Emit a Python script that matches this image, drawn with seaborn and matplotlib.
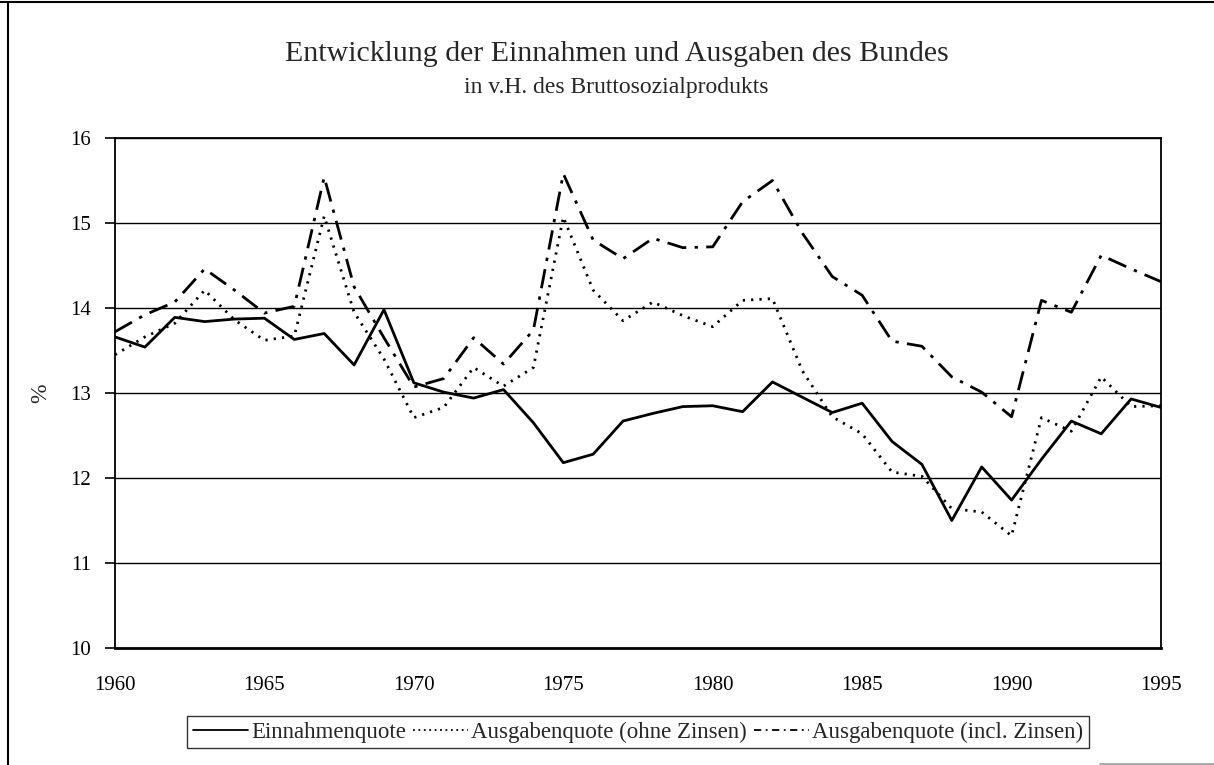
"""
Entwicklung der Einnahmen und Ausgaben des Bundes, 1960-1995.
"""
import matplotlib
matplotlib.use("Agg")
import matplotlib.pyplot as plt
from matplotlib.lines import Line2D
from matplotlib.ticker import MultipleLocator
import pandas as pd
import seaborn as sns

# data (in v.H. des BSP)
years = list(range(1960, 1996))
einnahmenquote = [13.66, 13.54, 13.89, 13.84, 13.87, 13.88, 13.63, 13.70, 13.33, 13.98,
                  13.12, 13.01, 12.94, 13.04, 12.65, 12.18, 12.28, 12.67, 12.76, 12.84,
                  12.85, 12.78, 13.13, 12.95, 12.77, 12.88, 12.43, 12.16, 11.50, 12.13,
                  11.74, 12.22, 12.67, 12.52, 12.93, 12.83]
ausgaben_ohne = [13.45, 13.66, 13.82, 14.21, 13.86, 13.62, 13.67, 15.08, 13.95, 13.40,
                 12.71, 12.83, 13.30, 13.08, 13.30, 15.07, 14.21, 13.85, 14.07, 13.91,
                 13.78, 14.09, 14.11, 13.26, 12.72, 12.52, 12.07, 12.02, 11.64, 11.60,
                 11.32, 12.71, 12.55, 13.19, 12.84, 12.85]
ausgaben_incl = [13.72, 13.92, 14.07, 14.46, 14.21, 13.94, 14.02, 15.54, 14.25, 13.65,
                 13.07, 13.17, 13.65, 13.34, 13.74, 15.58, 14.80, 14.58, 14.82, 14.71,
                 14.72, 15.25, 15.50, 14.88, 14.37, 14.15, 13.61, 13.55, 13.19, 13.01,
                 12.72, 14.09, 13.95, 14.62, 14.46, 14.31]

series_names = ["Einnahmenquote", "Ausgabenquote (ohne Zinsen)", "Ausgabenquote (incl. Zinsen)"]
series_styles = {
    "Einnahmenquote": "-",
    "Ausgabenquote (ohne Zinsen)": (0, (0.8, 2.2)),
    "Ausgabenquote (incl. Zinsen)": (0, (7, 3, 1.2, 3)),
}

df = pd.DataFrame({
    "Jahr": years * 3,
    "Wert": einnahmenquote + ausgaben_ohne + ausgaben_incl,
    "Reihe": [n for n in series_names for _ in years],
})

sns.set_style("white")
plt.rcParams["font.family"] = ["Liberation Serif", "DejaVu Serif"]

fig = plt.figure(figsize=(12.14, 7.65), dpi=100)
ax = fig.add_axes([115 / 1214, 1 - 648 / 765, (1161 - 115) / 1214, (648 - 138) / 765])

for name in series_names:
    sns.lineplot(data=df[df["Reihe"] == name], x="Jahr", y="Wert", color="black",
                 linewidth=2.0, linestyle=series_styles[name], ax=ax, legend=False)

ax.set_xlim(1960, 1995)
ax.set_ylim(10, 16)
ax.xaxis.set_major_locator(MultipleLocator(5))
ax.xaxis.set_minor_locator(MultipleLocator(1))
ax.yaxis.set_major_locator(MultipleLocator(1))
ax.tick_params(axis="x", which="both", direction="inout", length=10, width=1.2,
               labelsize=15, pad=15, colors="black")
ax.tick_params(axis="y", which="major", direction="out", length=7, width=1.2,
               labelsize=15, pad=10, colors="black", left=True)
ax.grid(True, axis="y", color="black", linewidth=1.0)
ax.grid(False, axis="x")
for side in ["left", "right", "top", "bottom"]:
    ax.spines[side].set_visible(True)
    ax.spines[side].set_color("black")
    ax.spines[side].set_linewidth(1.3)
ax.spines["bottom"].set_linewidth(2.0)
ax.set_xlabel("")
ax.set_ylabel("%", fontsize=17, labelpad=14)

fig.text(617 / 1214, 1 - 61 / 765, "Entwicklung der Einnahmen und Ausgaben des Bundes",
         ha="center", va="baseline", fontsize=21.5)
fig.text(616 / 1214, 1 - 93 / 765, "in v.H. des Bruttosozialprodukts",
         ha="center", va="baseline", fontsize=17)

handles = [Line2D([], [], color="black", linewidth=1.3, linestyle=series_styles[n]) for n in series_names]
handles[1].set_linestyle((0, (1, 2)))
handles[2].set_linestyle((0, (4, 2.5, 1, 2.5)))
leg = fig.legend(handles, series_names, loc="center", bbox_to_anchor=(638 / 1214, 1 - 732 / 765),
                 ncol=3, frameon=True, fancybox=False, fontsize=16.5, handlelength=2.4,
                 handletextpad=0.15, columnspacing=0.3, borderpad=0.25, borderaxespad=0)
leg.get_frame().set_edgecolor("black")
leg.get_frame().set_linewidth(1.0)

# outer frame of the figure
fig.add_artist(Line2D([0, 1], [1 - 2 / 765, 1 - 2 / 765], transform=fig.transFigure,
                      color="black", linewidth=1.5))
fig.add_artist(Line2D([8 / 1214, 8 / 1214], [0, 1 - 2 / 765], transform=fig.transFigure,
                      color="black", linewidth=1.5))
fig.add_artist(Line2D([1100 / 1214, 1], [1 / 765, 1 / 765], transform=fig.transFigure,
                      color="#999999", linewidth=1.2))

fig.savefig("out.png", dpi=100)
